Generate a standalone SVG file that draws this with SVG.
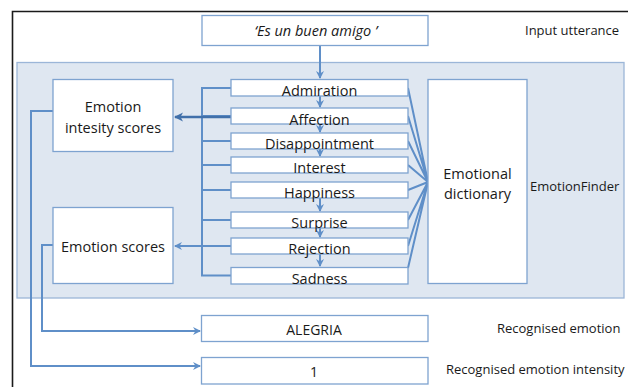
<svg xmlns="http://www.w3.org/2000/svg" width="628" height="387" viewBox="0 0 628 387">
<defs>
<style>
.t{font-family:"Open Sans","Liberation Sans",sans-serif;fill:#1a1a1a}
.box{fill:#fff;stroke:#7ea3d0;stroke-width:1.3}
.ln{fill:none;stroke:#5f8fc8;stroke-width:2}
.em{font-size:14.5px;text-anchor:middle}
.lbl{font-size:13px}
</style>
<marker id="ah" markerWidth="9" markerHeight="9" refX="7" refY="4" orient="auto" markerUnits="userSpaceOnUse">
<path d="M0,0 L8,4 L0,8 L2.5,4 z" fill="#5f8fc8"/>
</marker>
<marker id="ahd" markerWidth="10" markerHeight="10" refX="8" refY="4.5" orient="auto" markerUnits="userSpaceOnUse">
<path d="M0,0 L9,4.5 L0,9 L2.5,4.5 z" fill="#4170aa"/>
</marker>
</defs>
<rect width="628" height="387" fill="#fff"/>
<path d="M12.5,400 V11.5 H640" fill="none" stroke="#1a1a1a" stroke-width="1.6"/>
<g id="emotionfinder">
<rect x="17" y="62.5" width="607" height="235.5" fill="#dfe7f1" stroke="#9bb6d8" stroke-width="1.3"/>
<text class="t lbl" x="530" y="191">EmotionFinder</text>
</g>
<g id="connectors">
<path class="ln" d="M320,45 V78" marker-end="url(#ah)"/>
<path class="ln" d="M320,96 V107" marker-end="url(#ah)"/>
<path class="ln" d="M320,124 V132" marker-end="url(#ah)"/>
<path class="ln" d="M320,149 V156" marker-end="url(#ah)"/>
<path class="ln" d="M320,198 V211" marker-end="url(#ah)"/>
<path class="ln" d="M320,228 V237" marker-end="url(#ah)"/>
<path class="ln" d="M320,254 V266" marker-end="url(#ah)"/>
<path class="ln" d="M231,88 H202 V275.5 H231 M202,116 H231 M202,141 H231 M202,165 H231 M202,190 H231 M202,220 H231"/>
<path d="M231,117 H175" fill="none" stroke="#4170aa" stroke-width="2.6" marker-end="url(#ahd)"/>
<path class="ln" d="M231,246 H175" marker-end="url(#ah)"/>
<path class="ln" d="M408,88 L428,182 M408,116 L428,182 M408,141 L428,182 M408,165 L428,182 M408,190 L428,182 M408,220 L428,182 M408,246 L428,182 M408,268 L428,182"/>
<path class="ln" d="M53,111 H31 V366 H200" marker-end="url(#ah)"/>
<path class="ln" d="M53,245 H42 V331 H200" marker-end="url(#ah)"/>
</g>
<g id="input">
<rect class="box" x="202" y="15.5" width="226" height="30"/>
<text class="t" x="316" y="36" font-size="14.5" font-style="italic" text-anchor="middle">‘Es un buen amigo ’</text>
<text class="t lbl" x="525" y="35">Input utterance</text>
</g>
<g id="intensity-scores">
<rect class="box" x="53" y="79.5" width="120" height="72"/>
<text class="t" x="113" y="112" font-size="14.5" text-anchor="middle">Emotion</text>
<text class="t" x="113" y="133" font-size="14.5" text-anchor="middle">intesity scores</text>
</g>
<g id="emotion-scores">
<rect class="box" x="53" y="207.5" width="120" height="76"/>
<text class="t" x="113" y="252" font-size="14.5" text-anchor="middle">Emotion scores</text>
</g>
<g id="admiration"><rect class="box" x="231" y="79.5" width="177" height="16.5"/><text class="t em" x="319.5" y="96">Admiration</text></g>
<g id="affection"><rect class="box" x="231" y="108" width="177" height="16"/><text class="t em" x="319.5" y="124.5">Affection</text></g>
<g id="disappointment"><rect class="box" x="231" y="133" width="177" height="16"/><text class="t em" x="319.5" y="148.5">Disappointment</text></g>
<g id="interest"><rect class="box" x="231" y="157" width="177" height="16"/><text class="t em" x="319.5" y="173">Interest</text></g>
<g id="happiness"><rect class="box" x="231" y="182" width="177" height="16"/><text class="t em" x="319.5" y="197.5">Happiness</text></g>
<g id="surprise"><rect class="box" x="231" y="212" width="177" height="16"/><text class="t em" x="319.5" y="228">Surprise</text></g>
<g id="rejection"><rect class="box" x="231" y="238" width="177" height="16"/><text class="t em" x="319.5" y="254">Rejection</text></g>
<g id="sadness"><rect class="box" x="231" y="267.5" width="177" height="16.5"/><text class="t em" x="319.5" y="284">Sadness</text></g>
<g id="dictionary">
<rect class="box" x="428" y="79.5" width="99" height="204"/>
<text class="t" x="477.5" y="179" font-size="14.5" text-anchor="middle">Emotional</text>
<text class="t" x="477.5" y="199" font-size="14.5" text-anchor="middle">dictionary</text>
</g>
<g id="alegria">
<rect class="box" x="201.5" y="315.5" width="226.5" height="26"/>
<text class="t" x="314" y="335" font-size="14" text-anchor="middle">ALEGRIA</text>
<text class="t lbl" x="497" y="333">Recognised emotion</text>
</g>
<g id="intensity">
<rect class="box" x="201.5" y="357.5" width="226.5" height="26.5"/>
<text class="t" x="314" y="377" font-size="14" text-anchor="middle">1</text>
<text class="t lbl" x="446" y="374">Recognised emotion intensity</text>
</g>
</svg>
